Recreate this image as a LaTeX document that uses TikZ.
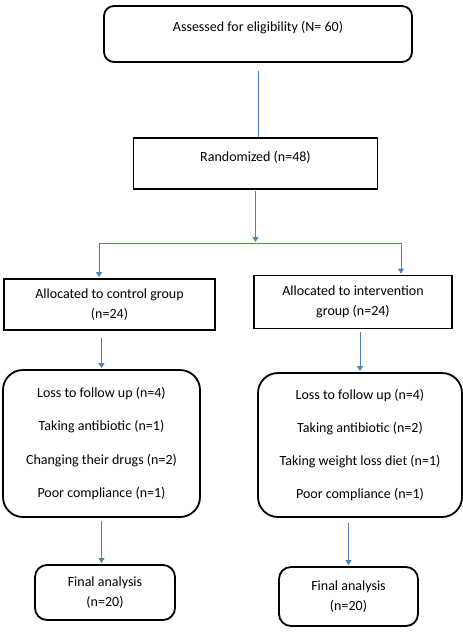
\documentclass[tikz,border=0pt]{standalone}
\usepackage{fontspec}
\setmainfont{Carlito}
\usetikzlibrary{arrows.meta}
\definecolor{flowblue}{RGB}{79,129,189}

\begin{document}
\begin{tikzpicture}[x=1pt,y=-1pt,
    box/.style={draw,line width=1.8pt,inner sep=0pt,align=center,
      font=\fontsize{14}{20}\selectfont},
    roundbox/.style={box,rounded corners=#1},
    link/.style={draw=flowblue,line width=1pt},
    flow/.style={link,-{Triangle[width=6pt,length=5pt]},shorten >=1pt}]
  \useasboundingbox (0,0) rectangle (463,635);
  % boxes
  \node[roundbox=10pt,minimum width=308pt,text height=25pt,text depth=31pt]
    (assess) at (258,34) {Assessed for eligibility (N= 60)};
  \node[box,minimum width=244pt,text height=23pt,text depth=28pt]
    (rand) at (255.5,163.5) {Randomized (n=48)};
  \node[box,minimum width=211pt,minimum height=51pt]
    (ctrl) at (109.5,304.5) {Allocated to control group\\(n=24)};
  \node[box,minimum width=198pt,minimum height=53pt]
    (interv) at (353,302) {Allocated to intervention\\group (n=24)};
  \node[roundbox=20pt,minimum width=197pt,minimum height=147pt,
    font=\fontsize{14}{33.3}\selectfont] (drop1) at (101.5,443.5)
    {Loss to follow up (n=4)\\Taking antibiotic (n=1)\\
     Changing their drugs (n=2)\\Poor compliance (n=1)};
  \node[roundbox=20pt,minimum width=204pt,minimum height=144pt,
    font=\fontsize{14}{33.3}\selectfont] (drop2) at (360,445)
    {Loss to follow up (n=4)\\Taking antibiotic (n=2)\\
     Taking weight loss diet (n=1)\\Poor compliance (n=1)};
  \node[roundbox=12pt,minimum width=140pt,minimum height=55pt]
    (final1) at (105,592.5) {Final analysis\\(n=20)};
  \node[roundbox=12pt,minimum width=139pt,minimum height=59pt]
    (final2) at (348.5,596.5) {Final analysis\\(n=20)};
  % connectors
  \coordinate (splitL) at (99,243);
  \coordinate (splitR) at (401,243);
  \draw[link,shorten <=8pt] (assess.south) -- (assess.south |- rand.north);
  \draw[flow,shorten <=1pt] (rand.south) -- (rand.south |- splitL);
  \draw[link] (splitL) -- (splitR);
  \draw[flow] (splitL) -- (splitL |- ctrl.north);
  \draw[flow] (splitR) -- (splitR |- interv.north);
  \draw[flow,shorten <=7pt] (drop1.north |- ctrl.south) -- (drop1.north);
  \draw[flow,shorten <=3pt] (drop2.north |- interv.south) -- (drop2.north);
  \draw[flow,shorten <=3pt] (drop1.south) -- (drop1.south |- final1.north);
  \draw[flow,shorten <=5pt] (final2.north |- drop2.south) -- (final2.north);
\end{tikzpicture}
\end{document}
